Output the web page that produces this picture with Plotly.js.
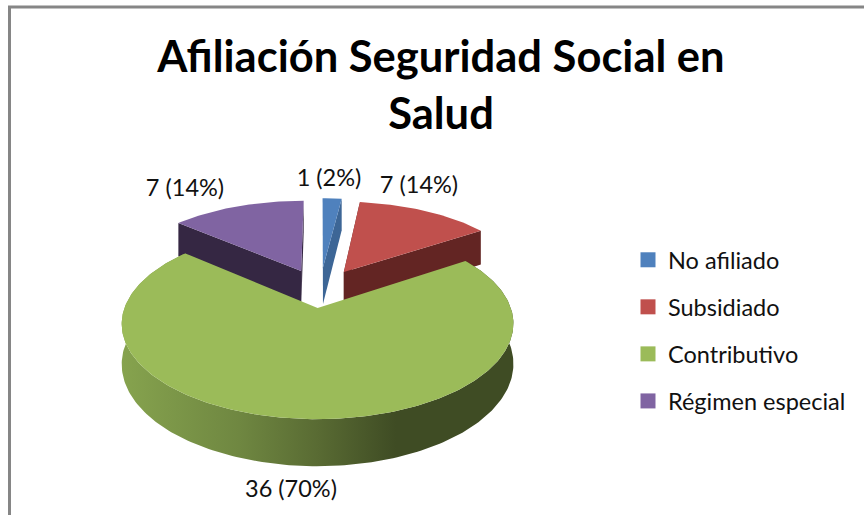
<!DOCTYPE html>
<html>
<head>
<meta charset="utf-8">
<script src="https://cdn.plot.ly/plotly-3.0.1.min.js"></script>
<style>html,body{margin:0;padding:0;background:#fff;overflow:hidden}</style>
</head>
<body>
<div id="chart" style="width:864px;height:515px"></div>
<script>
const titleText = "Afiliación Seguridad Social en<br>Salud";
const categories = ["No afiliado", "Subsidiado", "Contributivo", "Régimen especial"];
const values = [1, 7, 36, 7];
const percents = [2, 14, 70, 14];

const topColors = ["#4f81bd", "#c0504d", "#9bbb59", "#8064a2"];
const wallColors = ["#3d6696", "#632523", "#3f4c24", "#352743"];
const explode = [0.27, 0.25, 0.20, 0.25];
const labelX = [329, 419, 291, 185];
const labelY = [180, 187, 491, 190];

const view = {cx: 320, cy: 290, rx: 187, ry: 87, persp: 0.16, depth: 38};
const FONT = "Lato, Carlito, sans-serif";

function project(u, v, drop) {
  const s = 1 / (1 + view.persp * v);
  return [view.cx + view.rx * u * s, view.cy - view.ry * v * s + (drop ? view.depth * s : 0)];
}
const total = values.reduce((a, b) => a + b, 0);
const slices = [];
let acc = 0;
values.forEach((val, i) => {
  const a0 = acc / total * 2 * Math.PI;
  acc += val;
  const a1 = acc / total * 2 * Math.PI;
  const mid = (a0 + a1) / 2;
  slices.push({i, a0, a1, ou: explode[i] * Math.sin(mid), ov: explode[i] * Math.cos(mid)});
});
function arc(s, from, to, drop) {
  const n = Math.max(4, Math.ceil(Math.abs(to - from) / 0.02));
  const pts = [];
  for (let k = 0; k <= n; k++) {
    const a = from + (to - from) * k / n;
    pts.push(project(s.ou + Math.sin(a), s.ov + Math.cos(a), drop));
  }
  return pts;
}
function poly(pts, opts) {
  return Object.assign({
    type: "scatter", mode: "lines", x: pts.map(p => p[0]), y: pts.map(p => p[1]),
    fill: "toself", line: {width: 0}, showlegend: false, hoverinfo: "skip"
  }, opts);
}
function radialWall(s, a, color) {
  const apex = project(s.ou, s.ov, false), apexD = project(s.ou, s.ov, true);
  const e = project(s.ou + Math.sin(a), s.ov + Math.cos(a), false);
  const eD = project(s.ou + Math.sin(a), s.ov + Math.cos(a), true);
  return poly([apex, e, eD, apexD, apex], {fillcolor: color});
}
const traces = [];
[0, 1, 3].forEach(i => {
  const s = slices[i];
  traces.push(radialWall(s, s.a0, wallColors[i]));
  traces.push(radialWall(s, s.a1, wallColors[i]));
  traces.push(poly([project(s.ou, s.ov, false)].concat(arc(s, s.a0, s.a1, false)), {fillcolor: topColors[i]}));
});
const g = slices[2];
traces.push(poly(arc(g, g.a0, g.a1, false).concat(arc(g, g.a1, g.a0, true)), {
  fillcolor: wallColors[2],
  fillgradient: {type: "horizontal", colorscale: [[0, "#86a34e"], [0.3, "#6f8741"], [0.5, "#596b33"], [0.7, "#3f4c24"], [1, "#3f4c24"]]}
}));
traces.push(poly([project(g.ou, g.ov, false)].concat(arc(g, g.a0, g.a1, false)), {fillcolor: topColors[2]}));

traces.push({
  type: "scatter", mode: "text", x: labelX, y: labelY,
  text: values.map((v, i) => v + " (" + percents[i] + "%)"),
  textposition: "middle center",
  textfont: {family: FONT, size: 23.5, color: "#111"},
  showlegend: false, hoverinfo: "skip"
});
categories.forEach((c, i) => traces.push({
  type: "scatter", mode: "markers", name: c, x: [null], y: [null], legendgroup: c,
  marker: {symbol: "square", size: 15, color: topColors[i]}
}));

Plotly.newPlot("chart", traces, {
  width: 864, height: 515, margin: {l: 0, r: 0, t: 0, b: 0},
  paper_bgcolor: "#fff", plot_bgcolor: "#fff",
  xaxis: {range: [0, 864], visible: false, fixedrange: true},
  yaxis: {range: [515, 0], visible: false, fixedrange: true},
  title: {text: titleText, x: 441 / 864, xanchor: "center", y: 1 - 72 / 515, yanchor: "top",
          font: {family: FONT, size: 43.5, weight: 700, color: "#000"}},
  legend: {x: 628 / 864, xanchor: "left", y: 1 - 238 / 515, yanchor: "top",
           font: {family: FONT, size: 23.5, color: "#111"}, tracegroupgap: 13.5,
           bgcolor: "rgba(0,0,0,0)", itemclick: false, itemdoubleclick: false},
  shapes: [
    {type: "line", xref: "x", yref: "y", x0: 9.5, x1: 9.5, y0: 6, y1: 515, line: {color: "#868686", width: 3}},
    {type: "line", xref: "x", yref: "y", x0: 8, x1: 864, y0: 7, y1: 7, line: {color: "#868686", width: 3}}
  ]
}, {displayModeBar: false, staticPlot: true});
</script>
</body>
</html>
